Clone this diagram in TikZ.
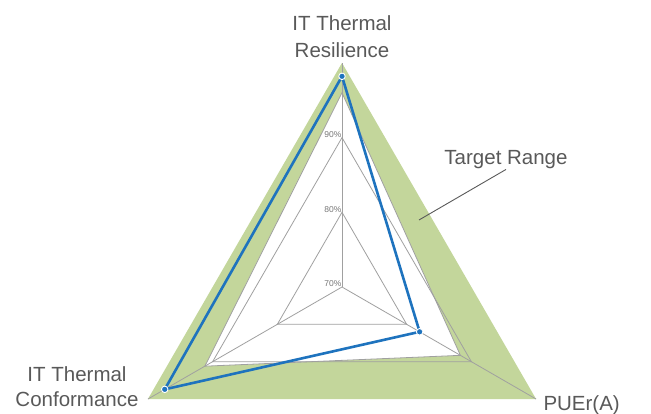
\documentclass[tikz,border=0pt]{standalone}
\usepackage{fontspec}
\setmainfont{Liberation Sans}
\usepackage{tikz}
\usetikzlibrary{positioning}
\definecolor{targetgreen}{RGB}{195,214,155}
\definecolor{seriesblue}{RGB}{30,115,190}
\definecolor{gridgray}{RGB}{160,160,160}
\definecolor{labelgray}{RGB}{89,89,89}
\tikzset{
  gridline/.style={draw=gridgray,line width=0.8pt},
  series/.style={draw=seriesblue,line width=2.6pt,line join=round},
  dot/.style={circle,fill=seriesblue,draw=white,line width=0.9pt,inner sep=0pt,minimum size=6.5pt},
  leader/.style={draw=labelgray,line width=0.9pt}
}

\begin{document}
\begin{tikzpicture}[
  x=1pt,y=1pt,
  axislabel/.style={font=\fontsize{20.5}{27}\selectfont,text=labelgray,align=center,inner sep=0pt},
  pct/.style={font=\fontsize{8.5}{9}\selectfont,text=gridgray!75!black,inner sep=0.3pt}
]
\useasboundingbox (0,0) rectangle (651,414);

\begin{scope}[shift={(342,127)},x=7.47pt,y=7.47pt]
  % target band: green to 100%, white cut-out below
  \fill[targetgreen] (90:30)--(210:30)--(330:30)--cycle;
  \filldraw[fill=white,gridline] (90:26)--(210:21.2)--(330:18.3)--cycle;

  \foreach \r in {10,20}
    \draw[gridline] (90:\r)--(210:\r)--(330:\r)--cycle;
  \foreach \a in {90,210,330}
    \draw[gridline] (0,0)--(\a:30);

  \node[pct,anchor=base east] (p70) at (0,0) {70\%};
  \node[pct,anchor=base east] (p80) at (90:10) {80\%};
  \node[pct,anchor=base east] (p90) at (90:20) {90\%};

  \coordinate (vRes) at (90:28.2);
  \coordinate (vCon) at (210:27.4);
  \coordinate (vPue) at (330:12);
  \draw[series] (vRes)--(vCon)--(vPue)--cycle;
  \node[dot] (dRes) at (vRes) {};
  \node[dot] (dCon) at (vCon) {};
  \node[dot] (dPue) at (vPue) {};
\end{scope}

\node[axislabel,anchor=north] (lRes) at (342,399) {IT Thermal\\Resilience};
\node[axislabel,anchor=north,font=\fontsize{20.5}{24.5}\selectfont] (lCon) at (77,47.5)
  {IT Thermal\\Conformance};
\node[axislabel,anchor=base west] (lPue) at (543.3,3.3) {PUEr(A)};

\node[axislabel,anchor=base] (lTarget) at (506,249) {Target Range};
\coordinate (tBand) at (419,194);
\draw[leader] (tBand)--(lTarget.south);

\end{tikzpicture}
\end{document}
